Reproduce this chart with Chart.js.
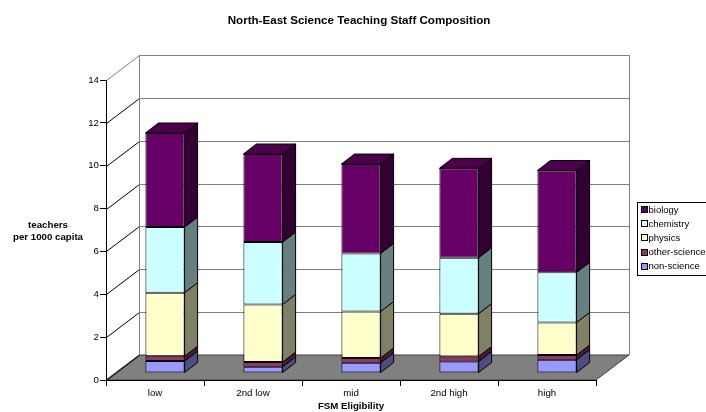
<!DOCTYPE html>
<html>
<head>
<meta charset="utf-8">
<script src="https://cdn.jsdelivr.net/npm/chart.js@4/dist/chart.umd.min.js"></script>
<style>
  html, body { margin: 0; padding: 0; background: #ffffff; }
  #wrap { width: 706px; height: 412px; }
</style>
</head>
<body>
<div id="wrap"><canvas id="c" width="706" height="412"></canvas></div>
<script>
// ---- data ----
const categories = ['low', '2nd low', 'mid', '2nd high', 'high'];
const nonScience   = [0.56, 0.29, 0.48, 0.54, 0.62];
const otherScience = [0.22, 0.22, 0.22, 0.23, 0.22];
const physics      = [2.97, 2.69, 2.17, 2.00, 1.52];
const chemistry    = [3.06, 2.91, 2.71, 2.61, 2.34];
const biology      = [4.39, 4.11, 4.17, 4.17, 4.75];
const seriesNames  = ['non-science', 'other-science', 'physics', 'chemistry', 'biology'];
const chartTitle   = 'North-East Science Teaching Staff Composition';
const xTitle       = 'FSM Eligibility';
const yTitleLines  = ['teachers', 'per 1000 capita'];

// ---- styles ----
const FONT = "'Liberation Sans', Arial, sans-serif";
const frontColors = ['#9999FF', '#993366', '#FFFFCC', '#CCFFFF', '#660066'];
const sideColors  = ['#4D4D80', '#4D1A33', '#808066', '#668080', '#330033'];
const topColors   = ['#7373BF', '#73264D', '#BFBF99', '#99BFBF', '#4C004C'];
const WALL_DX = 33, WALL_DY = -25;      // depth of the 3-D box
const BAR_OFF_X = 10, BAR_OFF_Y = -7;   // bars sit a little behind the front plane
const BAR_DX = 13, BAR_DY = -10;        // bar depth

const seriesData = [nonScience, otherScience, physics, chemistry, biology];

const box3d = {
  id: 'box3d',
  beforeDraw(chart) {
    const {ctx, chartArea: a} = chart;
    const ys = chart.scales.y;
    ctx.save();
    ctx.fillStyle = '#ffffff';
    ctx.fillRect(0, 0, chart.width, chart.height);
    // floor
    const bot = a.bottom;
    ctx.beginPath();
    ctx.moveTo(a.left, bot);
    ctx.lineTo(a.right, bot);
    ctx.lineTo(a.right + WALL_DX, bot + WALL_DY);
    ctx.lineTo(a.left + WALL_DX, bot + WALL_DY);
    ctx.closePath();
    ctx.fillStyle = '#808080';
    ctx.fill();
    ctx.strokeStyle = '#404040';
    ctx.lineWidth = 1;
    ctx.stroke();
    // back wall gridlines and left wall diagonals
    ys.ticks.forEach((t, i) => {
      const py = Math.round(ys.getPixelForValue(t.value)) + 0.5;
      const isTop = i === ys.ticks.length - 1;
      if (t.value !== 0) {
        ctx.beginPath();
        ctx.moveTo(a.left + WALL_DX, py + WALL_DY);
        ctx.lineTo(a.right + WALL_DX, py + WALL_DY);
        ctx.strokeStyle = '#808080';
        ctx.stroke();
      }
      ctx.beginPath();
      ctx.moveTo(a.left + 0.5, py);
      ctx.lineTo(a.left + WALL_DX + 0.5, py + WALL_DY);
      ctx.strokeStyle = isTop ? '#808080' : '#000000';
      ctx.stroke();
    });
    // back wall verticals
    const topY = Math.round(ys.getPixelForValue(ys.max)) + WALL_DY;
    ctx.strokeStyle = '#808080';
    ctx.beginPath();
    ctx.moveTo(a.left + WALL_DX + 0.5, topY);
    ctx.lineTo(a.left + WALL_DX + 0.5, bot + WALL_DY);
    ctx.moveTo(a.right + WALL_DX + 0.5, topY);
    ctx.lineTo(a.right + WALL_DX + 0.5, bot + WALL_DY);
    ctx.stroke();
    ctx.restore();
  },
  beforeDatasetsDraw(chart) {
    chart.ctx.save();
    chart.ctx.translate(BAR_OFF_X, BAR_OFF_Y);
  },
  afterDatasetsDraw(chart) {
    const ctx = chart.ctx;
    const n = chart.data.datasets.length;
    for (let d = 0; d < n; d++) {
      const meta = chart.getDatasetMeta(d);
      meta.data.forEach(el => {
        const p = el.getProps(['x', 'y', 'base', 'width'], true);
        const left = p.x - p.width / 2, right = p.x + p.width / 2;
        const top = Math.min(p.y, p.base), bottom = Math.max(p.y, p.base);
        ctx.beginPath();
        ctx.moveTo(right, top);
        ctx.lineTo(right + BAR_DX, top + BAR_DY);
        ctx.lineTo(right + BAR_DX, bottom + BAR_DY);
        ctx.lineTo(right, bottom);
        ctx.closePath();
        ctx.fillStyle = sideColors[d];
        ctx.fill();
        ctx.strokeStyle = '#000000';
        ctx.lineWidth = 1;
        ctx.stroke();
        if (d === n - 1) {
          ctx.beginPath();
          ctx.moveTo(left, top);
          ctx.lineTo(left + BAR_DX, top + BAR_DY);
          ctx.lineTo(right + BAR_DX, top + BAR_DY);
          ctx.lineTo(right, top);
          ctx.closePath();
          ctx.fillStyle = topColors[d];
          ctx.fill();
          ctx.stroke();
        }
      });
    }
    ctx.restore();
  },
  afterDraw(chart) {
    const ctx = chart.ctx;
    ctx.save();
    ctx.fillStyle = '#000000';
    ctx.textAlign = 'center';
    ctx.textBaseline = 'middle';
    // chart title
    ctx.font = 'bold 11.6px ' + FONT;
    ctx.fillText(chartTitle, 359, 21);
    // y axis title (horizontal, two lines)
    ctx.font = 'bold 9.7px ' + FONT;
    ctx.fillText(yTitleLines[0], 48, 225);
    ctx.fillText(yTitleLines[1], 48, 237);
    // legend
    const lx = 637, ly = 202, lw = 80, lh = 73;
    ctx.fillStyle = '#ffffff';
    ctx.fillRect(lx, ly, lw, lh);
    ctx.strokeStyle = '#000000';
    ctx.lineWidth = 1;
    ctx.strokeRect(lx + 0.5, ly + 0.5, lw, lh);
    ctx.font = '9.5px ' + FONT;
    ctx.textAlign = 'left';
    const ds = chart.data.datasets;
    for (let k = 0; k < ds.length; k++) {
      const d = ds.length - 1 - k;
      const cy = 210 + k * 14.2;
      ctx.fillStyle = frontColors[d];
      ctx.fillRect(641.5, Math.round(cy) - 3.5, 6, 6);
      ctx.strokeStyle = '#000000';
      ctx.strokeRect(641.5, Math.round(cy) - 3.5, 6, 6);
      ctx.fillStyle = '#000000';
      ctx.fillText(ds[d].label, 648.5, cy);
    }
    ctx.restore();
  }
};

new Chart(document.getElementById('c'), {
  type: 'bar',
  data: {
    labels: categories,
    datasets: seriesData.map((vals, i) => ({
      label: seriesNames[i],
      data: vals,
      backgroundColor: frontColors[i],
      borderColor: '#000000',
      borderWidth: 1,
      borderSkipped: false,
      barPercentage: 0.4,
      categoryPercentage: 1.0
    }))
  },
  options: {
    responsive: false,
    devicePixelRatio: 1,
    animation: false,
    layout: { padding: { left: 0, right: 110, top: 80, bottom: 0 } },
    plugins: {
      legend: { display: false },
      title: { display: false },
      tooltip: { enabled: false }
    },
    scales: {
      x: {
        stacked: true,
        afterFit: s => { s.height = 32; },
        grid: { display: true, drawOnChartArea: false, offset: true, color: '#000000', tickLength: 6, tickColor: '#000000' },
        border: { display: true, color: '#000000' },
        ticks: { color: '#000000', font: { family: FONT, size: 9.7 }, padding: 2, maxRotation: 0 },
        title: { display: true, text: xTitle, color: '#000000', font: { family: FONT, size: 9.7, weight: 'bold' }, padding: 0 }
      },
      y: {
        stacked: true,
        min: 0,
        max: 14,
        afterFit: s => { s.width = 106; },
        grid: { display: true, drawOnChartArea: false, color: '#000000', tickLength: 6, tickColor: '#000000' },
        border: { display: true, color: '#000000' },
        ticks: { stepSize: 2, color: '#000000', font: { family: FONT, size: 9.7 }, padding: 1 }
      }
    }
  },
  plugins: [box3d]
});
</script>
</body>
</html>
